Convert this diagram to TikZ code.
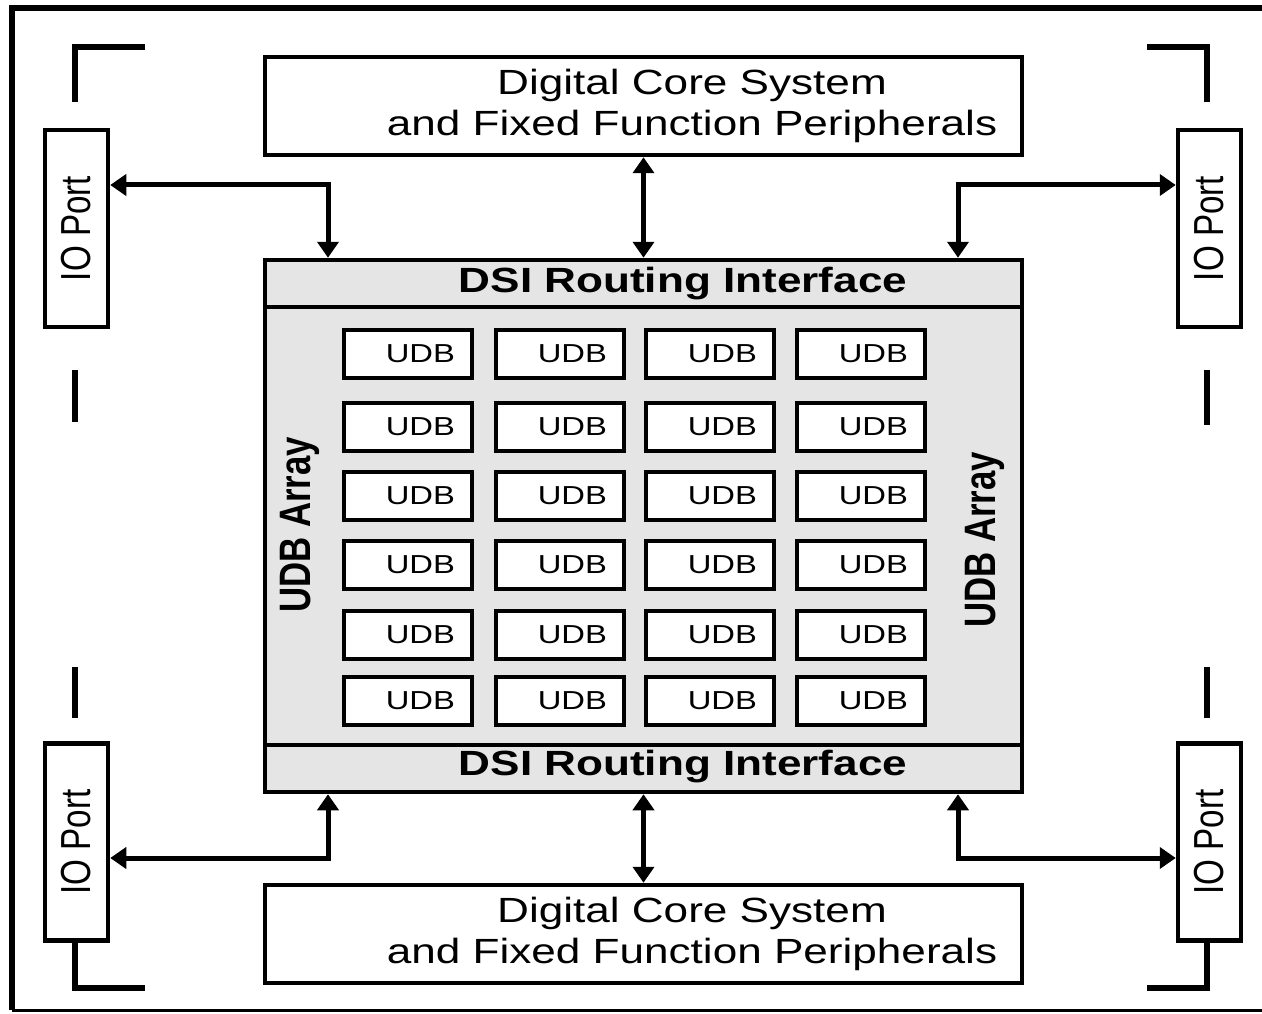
\documentclass[tikz,border=0pt]{standalone}
\usepackage{fontspec}
\usetikzlibrary{arrows.meta}
\newfontfamily\widesf[FakeStretch=1.26]{Liberation Sans}
\newfontfamily\tallsf[FakeStretch=0.79]{Liberation Sans}
\definecolor{dsigray}{gray}{0.9}

\begin{document}
\begin{tikzpicture}[x=1pt,y=-1pt]
\tikzstyle{blk}=[draw,line width=4.5pt,inner sep=0pt]
\tikzstyle{band}=[blk,fill=dsigray,minimum width=757pt,minimum height=47pt]
\tikzstyle{core}=[blk,fill=white,minimum width=757pt,minimum height=98pt]
\tikzstyle{port}=[blk,fill=white,rotate=90,minimum width=197pt,minimum height=63pt,font=\tallsf\fontsize{42}{50}\selectfont]
\tikzstyle{udb}=[blk,fill=white,minimum width=128pt,minimum height=48pt,text width=94pt,align=right,font=\widesf\fontsize{26}{30}\selectfont]
\tikzstyle{txt}=[inner sep=0pt,align=center,font=\widesf\fontsize{35}{41}\selectfont]
\tikzstyle{boldtxt}=[inner sep=0pt,font=\widesf\bfseries\fontsize{35}{41}\selectfont]
\tikzstyle{arraytxt}=[inner sep=0pt,rotate=90,font=\tallsf\bfseries\fontsize{44}{50}\selectfont]
\tikzstyle{link}=[line width=5pt,{Triangle[length=16pt,width=21pt]}-{Triangle[length=16pt,width=21pt]}]
\tikzstyle{guide}=[line width=6pt]

\useasboundingbox (0,0) rectangle (1262,1014);

% frame
\draw[line width=6pt] (1280,8) -- (12,8) -- (12,1010);
\draw[line width=3pt] (12,1010) -- (1280,1010);

% corner marks
\draw[guide] (145,47) -- (75,47) -- (75,102);
\draw[guide] (1147,47) -- (1207,47) -- (1207,102);
\draw[guide] (75,942) -- (75,988) -- (145,988);
\draw[guide] (1207,942) -- (1207,988) -- (1147,988);
\draw[guide] (75,370) -- (75,422);
\draw[guide] (75,667) -- (75,718);
\draw[guide] (1207,370) -- (1207,425);
\draw[guide] (1207,667) -- (1207,718);

% core blocks
\node[core] at (643.5,106) (dcstop) {};
\node[txt] at (692,106) (dcstoptxt) {Digital Core System\\and Fixed Function Peripherals};
\node[core] at (643.5,934) (dcsbot) {};
\node[txt] at (692,934) (dcsbottxt) {Digital Core System\\and Fixed Function Peripherals};

% io ports
\node[port] at (76.5,228.5) (iotl) {IO Port};
\node[port] at (76.5,842) (iobl) {IO Port};
\node[port] at (1209.5,228.5) (iotr) {IO Port};
\node[port] at (1209.5,842) (iobr) {IO Port};

% udb array
\node[blk,fill=dsigray,minimum width=757pt,minimum height=532pt] at (643.5,526) (dsi) {};
\node[band] at (643.5,283.5) (dsitop) {};
\node[band] at (643.5,768.5) (dsibot) {};
\node[boldtxt] at (683,284) (dsitoptxt) {DSI Routing Interface};
\node[boldtxt] at (683,767) (dsibottxt) {DSI Routing Interface};
\node[arraytxt] at (300,525) (arrl) {UDB Array};
\node[arraytxt] at (985,540) (arrr) {UDB Array};

\foreach \y [count=\r] in {354,427,496,565,635,701}
  \foreach \x [count=\c] in {408,560,710,861}
    \node[udb] at (\x,\y) (u\r\c) {UDB};

% links
\coordinate (tl) at (328,185);
\coordinate (tr) at (958,185);
\coordinate (bl) at (328,858);
\coordinate (br) at (958,858);
\draw[link] (iotl.south |- tl) -- (tl) -- (dsitop.north -| tl);
\draw[link] (dsitop.north -| tr) -- (tr) -- (iotr.north |- tr);
\draw[link] (iobl.south |- bl) -- (bl) -- (dsibot.south -| bl);
\draw[link] (dsibot.south -| br) -- (br) -- (iobr.north |- br);
\draw[link] (dcstop.south) -- (dsitop.north);
\draw[link] (dsibot.south) -- (dcsbot.north);
\end{tikzpicture}
\end{document}
